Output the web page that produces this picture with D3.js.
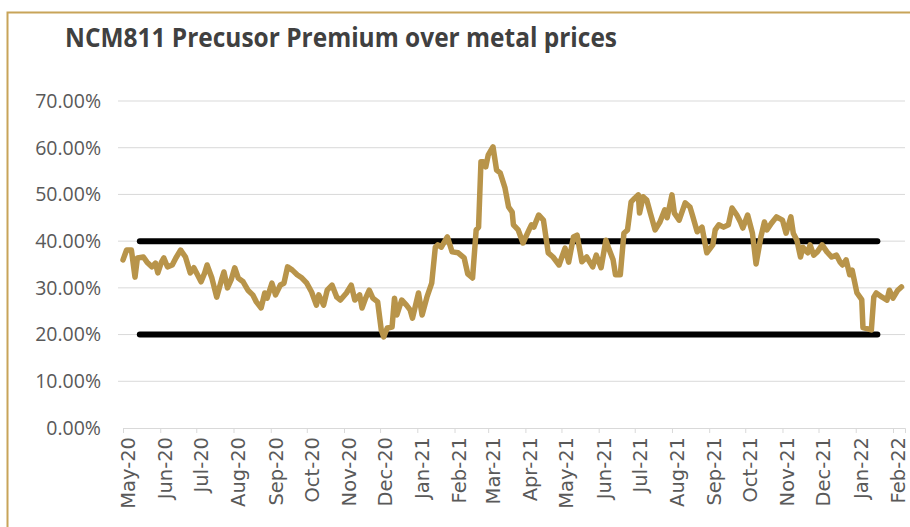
<!DOCTYPE html>
<html>
<head>
<meta charset="utf-8">
<script src="https://cdn.jsdelivr.net/npm/d3@7"></script>
<style>
  body { margin: 0; background: #fff; }
</style>
</head>
<body>
<div id="chart"></div>
<script>
// premium series (date, percent)
const dates = [
  "2020-05-01","2020-05-04","2020-05-08","2020-05-11","2020-05-13","2020-05-18","2020-05-21","2020-05-25","2020-05-28","2020-05-30",
  "2020-06-02","2020-06-04","2020-06-07","2020-06-11","2020-06-14","2020-06-18","2020-06-22","2020-06-26","2020-06-29",
  "2020-07-02","2020-07-05","2020-07-08","2020-07-10","2020-07-14","2020-07-18","2020-07-22","2020-07-24","2020-07-27","2020-07-30",
  "2020-08-02","2020-08-05","2020-08-09","2020-08-13","2020-08-17","2020-08-20","2020-08-24","2020-08-27","2020-08-29",
  "2020-09-02","2020-09-05","2020-09-09","2020-09-12","2020-09-15","2020-09-19","2020-09-23","2020-09-27",
  "2020-10-01","2020-10-05","2020-10-09","2020-10-11","2020-10-15","2020-10-18","2020-10-22","2020-10-26","2020-10-29",
  "2020-11-03","2020-11-07","2020-11-10","2020-11-14","2020-11-16","2020-11-19","2020-11-22","2020-11-25","2020-11-29",
  "2020-12-02","2020-12-04","2020-12-07","2020-12-11","2020-12-13","2020-12-15","2020-12-19","2020-12-23","2020-12-26","2020-12-28",
  "2021-01-02","2021-01-05","2021-01-09","2021-01-13","2021-01-16","2021-01-18","2021-01-21","2021-01-26","2021-01-30",
  "2021-02-04","2021-02-09","2021-02-12","2021-02-16","2021-02-19","2021-02-21","2021-02-23","2021-02-25","2021-02-27",
  "2021-03-01","2021-03-05","2021-03-08","2021-03-11","2021-03-15","2021-03-18","2021-03-21","2021-03-22","2021-03-26","2021-03-30",
  "2021-04-04","2021-04-06","2021-04-08","2021-04-12","2021-04-16","2021-04-20","2021-04-24","2021-04-29",
  "2021-05-04","2021-05-07","2021-05-11","2021-05-14","2021-05-18","2021-05-22","2021-05-27","2021-05-30",
  "2021-06-03","2021-06-07","2021-06-09","2021-06-13","2021-06-15","2021-06-19","2021-06-22","2021-06-25","2021-06-28",
  "2021-07-01","2021-07-04","2021-07-05","2021-07-08","2021-07-11","2021-07-14","2021-07-18","2021-07-22","2021-07-26","2021-07-28",
  "2021-08-01","2021-08-03","2021-08-07","2021-08-12","2021-08-16","2021-08-18","2021-08-22","2021-08-26","2021-08-30",
  "2021-09-04","2021-09-06","2021-09-09","2021-09-13","2021-09-17","2021-09-20","2021-09-24","2021-09-27","2021-09-29",
  "2021-10-03","2021-10-07","2021-10-10","2021-10-14","2021-10-17","2021-10-19","2021-10-23","2021-10-27",
  "2021-11-01","2021-11-04","2021-11-08","2021-11-10","2021-11-13","2021-11-16","2021-11-18","2021-11-22","2021-11-24","2021-11-27","2021-11-30",
  "2021-12-04","2021-12-08","2021-12-12","2021-12-16","2021-12-19","2021-12-21","2021-12-24","2021-12-27","2021-12-29",
  "2022-01-02","2022-01-06","2022-01-07","2022-01-14","2022-01-16","2022-01-18","2022-01-23","2022-01-27","2022-01-29",
  "2022-02-01","2022-02-05","2022-02-08"
];
const premium = [
  36.0,38.1,38.1,32.3,36.4,36.6,35.5,34.5,35.3,33.2,
  35.5,36.4,34.5,34.9,36.4,38.1,36.6,33.2,34.3,
  32.8,31.3,33.2,34.9,32.1,28.0,31.7,33.4,30.0,31.7,
  34.3,32.1,31.3,29.5,28.5,27.0,25.7,28.9,27.8,
  31.0,28.5,30.6,31.0,34.5,33.8,32.8,32.1,
  31.0,29.1,26.3,28.5,26.3,29.5,30.6,28.0,27.4,
  28.9,30.6,27.4,28.5,25.7,27.8,29.5,27.8,27.0,
  21.0,19.5,21.4,21.6,27.8,24.2,27.4,26.3,25.3,23.5,
  28.9,24.2,28.0,31.0,38.7,39.2,38.7,40.9,37.7,
  37.5,36.4,33.0,32.1,42.4,43.0,57.0,57.0,55.9,
  58.4,60.2,55.2,54.6,51.4,47.3,46.2,43.5,42.4,39.6,
  42.4,43.5,43.0,45.6,44.5,37.5,36.6,34.9,
  38.5,35.5,40.9,41.3,35.6,36.6,34.5,37.0,
  34.3,40.2,38.7,36.0,32.8,32.8,41.7,42.4,48.4,
  49.2,49.9,46.0,49.5,48.8,46.0,42.4,44.1,46.7,45.0,
  49.9,46.0,44.5,48.2,47.3,45.6,42.0,43.0,37.5,
  39.2,42.4,43.5,43.0,43.5,47.1,45.6,44.1,42.8,
  45.6,41.7,35.1,40.9,44.1,42.4,43.9,45.2,
  44.5,41.7,45.2,41.7,40.2,36.6,38.7,37.5,39.2,37.0,37.7,
  39.2,37.7,36.6,37.0,35.5,34.9,36.0,32.8,33.8,
  28.9,27.5,21.5,21.0,28.0,28.9,28.0,27.4,29.5,
  27.8,29.5,30.2
];
// band lines
const bandDates = ["2020-05-15", "2022-01-19"];
const bandLevels = [40, 20];
const yTicks = [0, 10, 20, 30, 40, 50, 60, 70];
const xDomain = ["2020-05-01", "2022-02-11"];

const width = 910, height = 527;
const parse = d3.timeParse("%Y-%m-%d");
const labelFont = "'Open Sans', 'Noto Sans', sans-serif";

const svg = d3.select("#chart").append("svg")
    .attr("width", width)
    .attr("height", height);

// chart frame
svg.append("path")
    .attr("d", "M7.5," + height + "V12.5H" + width)
    .attr("fill", "none")
    .attr("stroke", "#C8A459")
    .attr("stroke-width", 2);

svg.append("text")
    .attr("x", 65)
    .attr("y", 47)
    .attr("font-family", labelFont)
    .attr("font-size", 26)
    .attr("font-weight", "bold")
    .attr("fill", "#404040")
    .attr("textLength", 552)
    .attr("lengthAdjust", "spacingAndGlyphs")
    .text("NCM811 Precusor Premium over metal prices");

const x = d3.scaleTime()
    .domain(xDomain.map(parse))
    .range([123, 905]);
const y = d3.scaleLinear()
    .domain([0, 70])
    .range([428, 101]);

// gridlines
svg.append("g")
    .selectAll("line")
    .data(yTicks.slice(1))
    .join("line")
    .attr("x1", 118)
    .attr("x2", 905)
    .attr("y1", d => y(d))
    .attr("y2", d => y(d))
    .attr("stroke", "#D9D9D9")
    .attr("stroke-width", 1);

// y labels
svg.append("g")
    .selectAll("text")
    .data(yTicks)
    .join("text")
    .attr("x", 101)
    .attr("y", d => y(d))
    .attr("dy", "0.35em")
    .attr("text-anchor", "end")
    .attr("font-family", labelFont)
    .attr("font-size", 19.5)
    .attr("fill", "#595959")
    .text(d => d.toFixed(2) + "%");

// x axis: ticks from the axis, labels drawn rotated
const xAxis = svg.append("g")
    .attr("transform", "translate(0,428)")
    .call(d3.axisBottom(x)
        .ticks(d3.timeMonth.every(1))
        .tickSize(5)
        .tickFormat(""));
xAxis.select(".domain").attr("stroke", "#D9D9D9");
xAxis.selectAll(".tick line").attr("stroke", "#D9D9D9");

const fmt = d3.timeFormat("%b-%y");
svg.append("g")
    .selectAll("text")
    .data(x.ticks(d3.timeMonth.every(1)))
    .join("text")
    .attr("transform", d => "translate(" + (x(d) + 5) + ",437) rotate(-90)")
    .attr("dy", "0.35em")
    .attr("text-anchor", "end")
    .attr("font-family", "'DejaVu Sans', Verdana, sans-serif")
    .attr("font-size", 19.5)
    .attr("fill", "#595959")
    .text(d => fmt(d));

// band lines
svg.append("g")
    .selectAll("line")
    .data(bandLevels)
    .join("line")
    .attr("x1", x(parse(bandDates[0])))
    .attr("x2", x(parse(bandDates[1])))
    .attr("y1", d => y(d))
    .attr("y2", d => y(d))
    .attr("stroke", "#000")
    .attr("stroke-width", 6)
    .attr("stroke-linecap", "round");

// premium line
const series = dates.map((d, i) => ({date: parse(d), value: premium[i]}));
svg.append("path")
    .datum(series)
    .attr("fill", "none")
    .attr("stroke", "#B8944A")
    .attr("stroke-width", 5.5)
    .attr("stroke-linejoin", "round")
    .attr("stroke-linecap", "round")
    .attr("d", d3.line()
        .x(d => x(d.date))
        .y(d => y(d.value)));
</script>
</body>
</html>
